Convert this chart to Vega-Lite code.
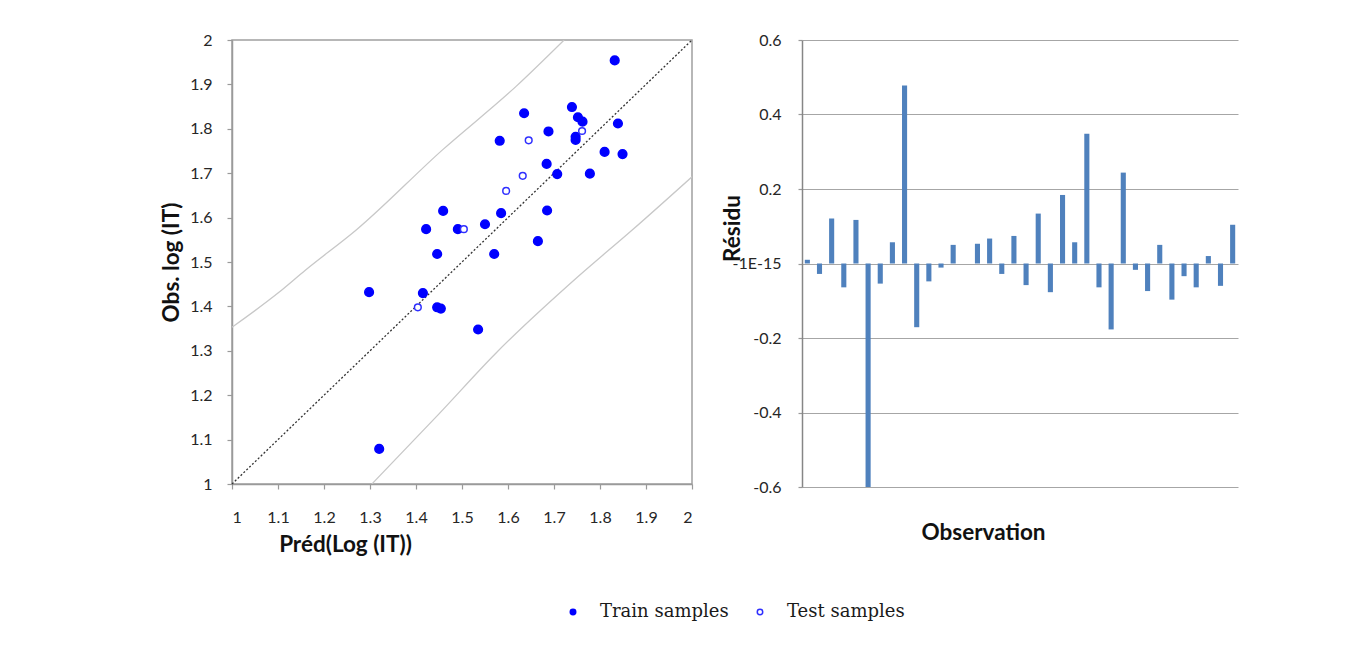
{
  "$schema": "https://vega.github.io/schema/vega-lite/v6.json",
  "background": "white",
  "padding": {"left": 159, "top": 31, "right": 5, "bottom": 5},
  "spacing": 25,
  "config": {
    "font": "Lato",
    "axis": {
      "labelFont": "Lato", "labelFontSize": 16, "labelColor": "#262626",
      "titleFont": "Lato", "titleFontSize": 22.5, "titleFontWeight": "bold", "titleColor": "#111111",
      "domainColor": "#9A9A9A", "tickColor": "#9A9A9A", "gridColor": "#A6A6A6", "domainWidth": 1.5, "tickWidth": 1.2
    },
    "legend": {
      "labelFont": "DejaVu Serif", "labelFontSize": 18, "labelColor": "#1a1a1a",
      "symbolSize": 30, "symbolStrokeWidth": 1.5, "labelOffset": 18, "columnPadding": 22, "symbolType": "circle"
    }
  },
  "datasets": {
    "bands": [
      {"band": "upper", "x": 1.0, "y": 1.353},
      {"band": "upper", "x": 1.1, "y": 1.43},
      {"band": "upper", "x": 1.16, "y": 1.482},
      {"band": "upper", "x": 1.27, "y": 1.572},
      {"band": "upper", "x": 1.457, "y": 1.752},
      {"band": "upper", "x": 1.617, "y": 1.895},
      {"band": "upper", "x": 1.722, "y": 2.0},
      {"band": "lower", "x": 1.304, "y": 1.0},
      {"band": "lower", "x": 1.45, "y": 1.158},
      {"band": "lower", "x": 1.573, "y": 1.294},
      {"band": "lower", "x": 1.75, "y": 1.465},
      {"band": "lower", "x": 1.87, "y": 1.572},
      {"band": "lower", "x": 2.0, "y": 1.692}
    ],
    "diag": [
      {"x": 1, "y": 1},
      {"x": 2, "y": 2}
    ],
    "train": [
      {"type": "Train samples", "pred": 1.298, "obs": 1.432},
      {"type": "Train samples", "pred": 1.32, "obs": 1.079},
      {"type": "Train samples", "pred": 1.415, "obs": 1.43},
      {"type": "Train samples", "pred": 1.422, "obs": 1.574},
      {"type": "Train samples", "pred": 1.446, "obs": 1.518},
      {"type": "Train samples", "pred": 1.446, "obs": 1.398},
      {"type": "Train samples", "pred": 1.454, "obs": 1.395},
      {"type": "Train samples", "pred": 1.459, "obs": 1.615},
      {"type": "Train samples", "pred": 1.491, "obs": 1.574},
      {"type": "Train samples", "pred": 1.535, "obs": 1.348},
      {"type": "Train samples", "pred": 1.55, "obs": 1.585},
      {"type": "Train samples", "pred": 1.57, "obs": 1.518},
      {"type": "Train samples", "pred": 1.582, "obs": 1.773},
      {"type": "Train samples", "pred": 1.585, "obs": 1.61},
      {"type": "Train samples", "pred": 1.635, "obs": 1.835},
      {"type": "Train samples", "pred": 1.665, "obs": 1.547},
      {"type": "Train samples", "pred": 1.685, "obs": 1.616},
      {"type": "Train samples", "pred": 1.684, "obs": 1.721},
      {"type": "Train samples", "pred": 1.688, "obs": 1.794},
      {"type": "Train samples", "pred": 1.707, "obs": 1.698},
      {"type": "Train samples", "pred": 1.739, "obs": 1.849},
      {"type": "Train samples", "pred": 1.747, "obs": 1.782},
      {"type": "Train samples", "pred": 1.747, "obs": 1.775},
      {"type": "Train samples", "pred": 1.752, "obs": 1.826},
      {"type": "Train samples", "pred": 1.762, "obs": 1.816},
      {"type": "Train samples", "pred": 1.778, "obs": 1.699},
      {"type": "Train samples", "pred": 1.81, "obs": 1.748},
      {"type": "Train samples", "pred": 1.832, "obs": 1.954},
      {"type": "Train samples", "pred": 1.839, "obs": 1.812},
      {"type": "Train samples", "pred": 1.849, "obs": 1.743}
    ],
    "test": [
      {"type": "Test samples", "pred": 1.404, "obs": 1.398},
      {"type": "Test samples", "pred": 1.504, "obs": 1.574},
      {"type": "Test samples", "pred": 1.596, "obs": 1.66},
      {"type": "Test samples", "pred": 1.632, "obs": 1.694},
      {"type": "Test samples", "pred": 1.645, "obs": 1.774},
      {"type": "Test samples", "pred": 1.761, "obs": 1.795}
    ],
    "resid": [
      {"n": 1, "res": 0.01}, {"n": 2, "res": -0.028}, {"n": 3, "res": 0.121}, {"n": 4, "res": -0.064},
      {"n": 5, "res": 0.117}, {"n": 6, "res": -0.6}, {"n": 7, "res": -0.054}, {"n": 8, "res": 0.057},
      {"n": 9, "res": 0.478}, {"n": 10, "res": -0.171}, {"n": 11, "res": -0.048}, {"n": 12, "res": -0.011},
      {"n": 13, "res": 0.05}, {"n": 14, "res": 0.0}, {"n": 15, "res": 0.053}, {"n": 16, "res": 0.067},
      {"n": 17, "res": -0.028}, {"n": 18, "res": 0.074}, {"n": 19, "res": -0.058}, {"n": 20, "res": 0.134},
      {"n": 21, "res": -0.077}, {"n": 22, "res": 0.184}, {"n": 23, "res": 0.057}, {"n": 24, "res": 0.348},
      {"n": 25, "res": -0.064}, {"n": 26, "res": -0.177}, {"n": 27, "res": 0.244}, {"n": 28, "res": -0.017},
      {"n": 29, "res": -0.074}, {"n": 30, "res": 0.05}, {"n": 31, "res": -0.097}, {"n": 32, "res": -0.034},
      {"n": 33, "res": -0.064}, {"n": 34, "res": 0.02}, {"n": 35, "res": -0.06}, {"n": 36, "res": 0.104}
    ]
  },
  "hconcat": [
    {
      "width": 460,
      "height": 444,
      "view": {"stroke": "#A0A0A0", "strokeWidth": 1.5},
      "layer": [
        {
          "data": {"name": "bands"},
          "mark": {"type": "line", "color": "#C8C8C8", "strokeWidth": 1.3, "clip": true, "interpolate": "monotone"},
          "encoding": {
            "x": {"field": "x", "type": "quantitative", "scale": {"domain": [1, 2]},
              "axis": {"values": [1, 1.1, 1.2, 1.3, 1.4, 1.5, 1.6, 1.7, 1.8, 1.9, 2], "format": "~g", "grid": false,
                "title": "Préd(Log (IT))", "tickSize": 5, "labelPadding": 20, "titlePadding": 8, "titleX": 113, "titleAlign": "center"}},
            "y": {"field": "y", "type": "quantitative", "scale": {"domain": [1, 2]},
              "axis": {"values": [1, 1.1, 1.2, 1.3, 1.4, 1.5, 1.6, 1.7, 1.8, 1.9, 2], "format": "~g", "grid": false,
                "title": "Obs. log (IT)", "tickSize": 5, "labelPadding": 15, "titlePadding": 6}},
            "detail": {"field": "band", "type": "nominal"}
          }
        },
        {
          "data": {"name": "diag"},
          "mark": {"type": "line", "color": "#333333", "strokeWidth": 1.3, "strokeDash": [2, 2]},
          "encoding": {
            "x": {"field": "x", "type": "quantitative"},
            "y": {"field": "y", "type": "quantitative"}
          }
        },
        {
          "data": {"name": "train"},
          "mark": {"type": "point", "shape": "circle", "size": 75, "strokeWidth": 1.5, "opacity": 1},
          "encoding": {
            "x": {"field": "pred", "type": "quantitative"},
            "y": {"field": "obs", "type": "quantitative"},
            "fill": {"field": "type", "type": "nominal",
              "scale": {"domain": ["Train samples", "Test samples"], "range": ["#0000FF", "#FFFFFF"]},
              "legend": {"orient": "none", "legendX": 332, "legendY": 563, "direction": "horizontal", "title": null}},
            "stroke": {"field": "type", "type": "nominal",
              "scale": {"domain": ["Train samples", "Test samples"], "range": ["#0000FF", "#2F2FFF"]},
              "legend": {"orient": "none", "legendX": 332, "legendY": 563, "direction": "horizontal", "title": null}}
          }
        },
        {
          "data": {"name": "test"},
          "mark": {"type": "point", "shape": "circle", "size": 45, "strokeWidth": 1.5, "opacity": 1},
          "encoding": {
            "x": {"field": "pred", "type": "quantitative"},
            "y": {"field": "obs", "type": "quantitative"},
            "fill": {"field": "type", "type": "nominal"},
            "stroke": {"field": "type", "type": "nominal"}
          }
        }
      ]
    },
    {
      "width": 436,
      "height": 447,
      "view": {"stroke": null},
      "data": {"name": "resid"},
      "mark": {"type": "bar", "color": "#4F81BD", "clip": true},
      "encoding": {
        "x": {"field": "n", "type": "ordinal", "scale": {"paddingInner": 0.58, "paddingOuter": 0.23},
          "axis": {"labels": false, "ticks": false, "domain": false, "title": "Observation", "titlePadding": 34, "titleX": 181, "titleAlign": "center"}},
        "y": {"field": "res", "type": "quantitative", "scale": {"domain": [-0.6, 0.6]},
          "axis": {"values": [-0.6, -0.4, -0.2, 0, 0.2, 0.4, 0.6],
            "labelExpr": "datum.value == 0 ? '-1E-15' : '' + datum.value",
            "title": "Résidu", "titleX": -58, "titleY": 188, "tickSize": 4, "labelPadding": 17, "grid": true, "domainColor": "#868686"}}
      }
    }
  ]
}
